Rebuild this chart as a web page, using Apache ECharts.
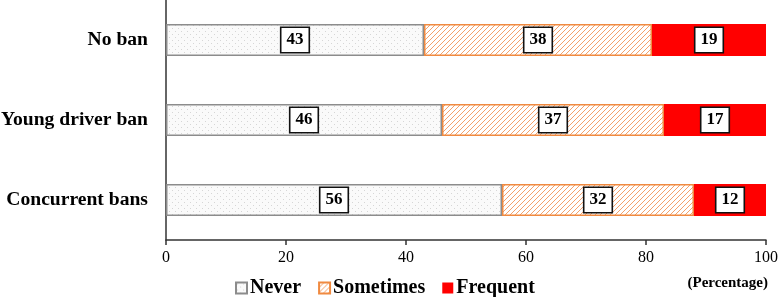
<!DOCTYPE html>
<html>
<head>
<meta charset="utf-8">
<script src="https://cdn.jsdelivr.net/npm/echarts@6/dist/echarts.min.js"></script>
<style>
  html, body { margin: 0; padding: 0; background: #fff; }
  #chart { width: 778px; height: 297px; }
</style>
</head>
<body>
<div id="chart"></div>
<script>
const categories = ['No ban', 'Young driver ban', 'Concurrent bans']
const never = [43, 46, 56]
const sometimes = [38, 37, 32]
const frequent = [19, 17, 12]
const xTicks = [0, 20, 40, 60, 80, 100]

const serif = '"Liberation Serif", "Times New Roman", serif'

// fill patterns
function dotPattern() {
    let c = document.createElement('canvas')
    c.width = 6; c.height = 6
    let ctx = c.getContext('2d')
    ctx.fillStyle = '#fafafa'
    ctx.fillRect(0, 0, 6, 6)
    ctx.fillStyle = '#d6d6d6'
    ctx.fillRect(1, 1, 1, 1)
    ctx.fillRect(4, 4, 1, 1)
    return c
}
function hatchPattern() {
    let c = document.createElement('canvas')
    c.width = 5; c.height = 5
    let ctx = c.getContext('2d')
    ctx.fillStyle = '#ffffff'
    ctx.fillRect(0, 0, 5, 5)
    ctx.strokeStyle = '#f4a06a'
    ctx.lineWidth = 1
    ctx.beginPath()
    ctx.moveTo(-1, 6); ctx.lineTo(6, -1)
    ctx.moveTo(-1, 1); ctx.lineTo(1, -1)
    ctx.moveTo(4, 6); ctx.lineTo(6, 4)
    ctx.stroke()
    return c
}

let labelStyle = {
    show: true,
    position: 'inside',
    color: '#000',
    fontFamily: serif,
    fontWeight: 'bold',
    fontSize: 17,
    backgroundColor: '#fff',
    borderColor: '#111',
    borderWidth: 1.6,
    padding: [4, 5, 3, 5]
}

let myChart = echarts.init(document.getElementById('chart'))
let option = {
    animation: false,
    grid: { left: 166, right: 12, top: 0, bottom: 57, containLabel: false, outerBoundsMode: 'none' },
    legend: {
        left: 230,
        top: 273,
        itemWidth: 11,
        itemHeight: 11,
        itemGap: 17,
        icon: 'rect',
        textStyle: { fontFamily: serif, fontWeight: 'bold', fontSize: 20, color: '#000', padding: [0, 0, 0, -2] },
        data: ['Never', 'Sometimes', 'Frequent']
    },
    graphic: [{
        type: 'text',
        right: 10,
        top: 276,
        style: { text: '(Percentage)', fontFamily: serif, fontWeight: 'bold', fontSize: 15, fill: '#000' }
    }],
    xAxis: {
        type: 'value',
        min: 0,
        max: 100,
        interval: 20,
        axisLine: { show: true, lineStyle: { color: '#333', width: 1.5 } },
        axisTick: { show: true, length: 5, lineStyle: { color: '#333', width: 1.5 } },
        axisLabel: { color: '#000', fontFamily: serif, fontSize: 16, margin: 10,
            formatter: v => xTicks.indexOf(v) >= 0 ? String(v) : '' },
        splitLine: { show: false }
    },
    yAxis: {
        type: 'category',
        inverse: true,
        data: categories,
        axisLine: { show: true, lineStyle: { color: '#333', width: 1.5 } },
        axisTick: { show: false },
        axisLabel: { color: '#000', fontFamily: serif, fontWeight: 'bold', fontSize: 19.6, margin: 18 }
    },
    series: [
        { name: 'Never', type: 'bar', stack: 'total', barWidth: 32, data: never,
          itemStyle: { color: { image: dotPattern(), repeat: 'repeat' }, borderColor: '#8c8c8c', borderWidth: 1.5 },
          label: labelStyle },
        { name: 'Sometimes', type: 'bar', stack: 'total', barWidth: 32, data: sometimes,
          itemStyle: { color: { image: hatchPattern(), repeat: 'repeat' }, borderColor: '#f08a40', borderWidth: 1.5 },
          label: labelStyle },
        { name: 'Frequent', type: 'bar', stack: 'total', barWidth: 32, data: frequent,
          itemStyle: { color: '#ff0000', borderColor: '#ff0000', borderWidth: 0 },
          label: labelStyle }
    ]
}
myChart.setOption(option)
window.addEventListener('resize', function() {
    myChart.resize()
})
</script>
</body>
</html>
